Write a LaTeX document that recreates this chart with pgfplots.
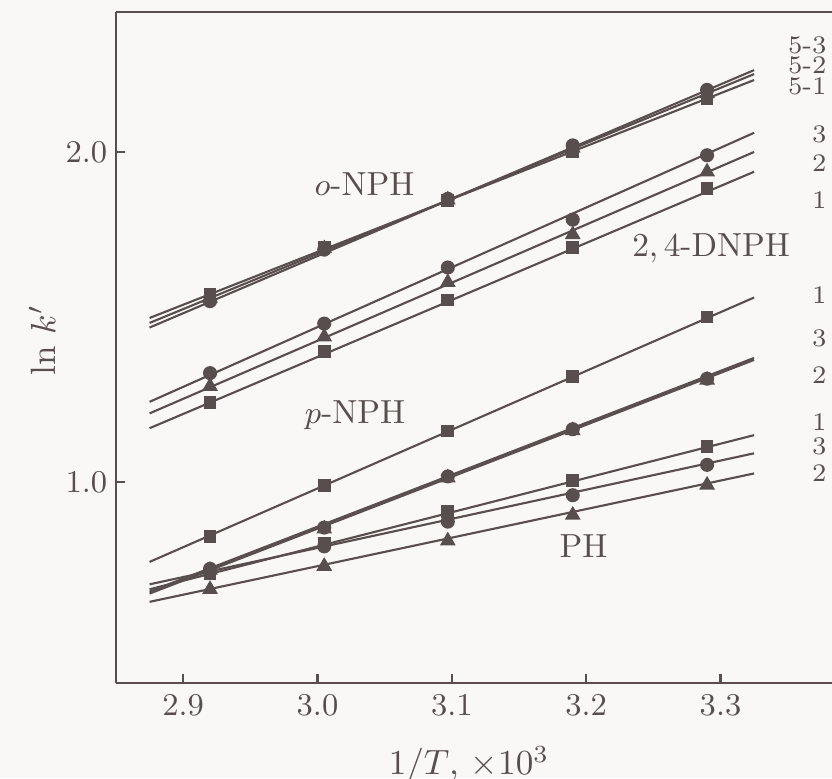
\documentclass[border=0pt]{standalone}
\usepackage{pgfplots}
\pgfplotsset{compat=1.18}
\definecolor{ink}{RGB}{88,78,78}
\definecolor{paper}{RGB}{250,248,246}

\begin{document}
\begin{tikzpicture}
\path[use as bounding box, fill=paper] (-1.16,-0.95) rectangle (7.16,6.83);
\begin{axis}[
    scale only axis,
    width=7.16cm, height=6.71cm,
    xmin=2.850, xmax=3.383,
    ymin=0.391, ymax=2.424,
    axis x line*=box, axis y line*=left,
    axis line style={ink, line width=0.8pt, -},
    tick pos=left,
    tick align=inside,
    major tick length=0.09cm,
    tick style={ink, line width=0.7pt},
    xtick={2.9,3.0,3.1,3.2,3.3},
    ytick={1,2},
    ticklabel style={ink, font=\fontsize{9.5}{10}\selectfont},
    xticklabel style={/pgf/number format/.cd, fixed, fixed zerofill, precision=1},
    yticklabel style={xshift=1pt, /pgf/number format/.cd, fixed, fixed zerofill, precision=1},
    xlabel={$1/T$, $\times10^{3}$},
    ylabel={ln $k'$},
    every axis x label/.style={at={(axis description cs:0.493,-0.122)}, anchor=center, ink, font=\fontsize{10}{11}\selectfont},
    every axis y label/.style={at={(axis description cs:-0.103,0.511)}, rotate=90, anchor=center, ink, font=\fontsize{10}{11}\selectfont},
    clip=false,
    every axis plot/.append style={ink, line width=0.6pt},
    mkc/.style={only marks, mark=*, mark size=1.7pt, mark options={fill=ink, draw=ink}},
    mkt/.style={only marks, mark=triangle*, mark size=2.0pt, mark options={fill=ink, draw=ink}},
    mks/.style={only marks, mark=square*, mark size=1.5pt, mark options={fill=ink, draw=ink}},
]

% o-NPH (5-1 squares, 5-2 triangles, 5-3 circles)
\addplot[no marks] coordinates {(2.875,1.497) (3.325,2.218)};
\addplot[no marks] coordinates {(2.875,1.482) (3.325,2.236)};
\addplot[no marks] coordinates {(2.875,1.468) (3.325,2.248)};
\addplot[mks] coordinates {(2.92,1.569) (3.005,1.712) (3.097,1.852) (3.19,2.001) (3.29,2.160)};
\addplot[mkt] coordinates {(2.92,1.557) (3.005,1.707) (3.097,1.855) (3.19,2.012) (3.29,2.177)};
\addplot[mkc] coordinates {(2.92,1.548) (3.005,1.704) (3.097,1.858) (3.19,2.020) (3.29,2.188)};

% 2,4-DNPH (1 squares, 2 triangles, 3 circles)
\addplot[no marks] coordinates {(2.875,1.163) (3.325,1.940)};
\addplot[no marks] coordinates {(2.875,1.208) (3.325,2.000)};
\addplot[no marks] coordinates {(2.875,1.243) (3.325,2.058)};
\addplot[mks] coordinates {(2.92,1.240) (3.005,1.395) (3.097,1.552) (3.19,1.710) (3.29,1.890)};
\addplot[mkt] coordinates {(2.92,1.290) (3.005,1.440) (3.097,1.605) (3.19,1.750) (3.29,1.940)};
\addplot[mkc] coordinates {(2.92,1.330) (3.005,1.480) (3.097,1.650) (3.19,1.795) (3.29,1.990)};

% p-NPH (1 squares, 2 triangles, 3 circles)
\addplot[no marks] coordinates {(2.875,0.758) (3.325,1.559)};
\addplot[no marks] coordinates {(2.875,0.662) (3.325,1.370)};
\addplot[no marks] coordinates {(2.875,0.668) (3.325,1.376)};
\addplot[mks] coordinates {(2.92,0.835) (3.005,0.990) (3.097,1.155) (3.19,1.319) (3.29,1.500)};
\addplot[mkc] coordinates {(2.92,0.737) (3.005,0.862) (3.097,1.017) (3.19,1.160) (3.29,1.313)};
\addplot[mkt] coordinates {(2.92,0.733) (3.005,0.858) (3.097,1.013) (3.19,1.156) (3.29,1.309)};

% PH (1 squares, 2 triangles, 3 circles)
\addplot[no marks] coordinates {(2.875,0.675) (3.325,1.142)};
\addplot[no marks] coordinates {(2.875,0.637) (3.325,1.026)};
\addplot[no marks] coordinates {(2.875,0.690) (3.325,1.087)};
\addplot[mks] coordinates {(2.92,0.722) (3.005,0.815) (3.097,0.910) (3.19,1.005) (3.29,1.107)};
\addplot[mkt] coordinates {(2.92,0.675) (3.005,0.745) (3.097,0.822) (3.19,0.900) (3.29,0.991)};
\addplot[mkc] coordinates {(2.92,0.730) (3.005,0.805) (3.097,0.880) (3.19,0.960) (3.29,1.052)};

% end-of-line labels
\begin{scope}[every node/.style={ink, font=\fontsize{7.2}{8}\selectfont, inner sep=0pt}]
\node[anchor=east] at (axis cs:3.3795,2.323) {5-3};
\node[anchor=east] at (axis cs:3.3795,2.261) {5-2};
\node[anchor=east] at (axis cs:3.3795,2.199) {5-1};
\node[anchor=east] at (axis cs:3.3795,2.052) {3};
\node[anchor=east] at (axis cs:3.3795,1.967) {2};
\node[anchor=east] at (axis cs:3.3795,1.855) {1};
\node[anchor=east] at (axis cs:3.3795,1.567) {1};
\node[anchor=east] at (axis cs:3.3795,1.436) {3};
\node[anchor=east] at (axis cs:3.3795,1.324) {2};
\node[anchor=east] at (axis cs:3.3795,1.182) {1};
\node[anchor=east] at (axis cs:3.3795,1.108) {3};
\node[anchor=east] at (axis cs:3.3795,1.027) {2};
\end{scope}
% group labels
\begin{scope}[every node/.style={ink, font=\fontsize{9.5}{10}\selectfont, inner sep=0pt}]
\node at (axis cs:3.035,1.903) {$o$-NPH};
\node at (axis cs:3.293,1.709) {2,\,4-DNPH};
\node at (axis cs:3.028,1.203) {$p$-NPH};
\node at (axis cs:3.198,0.806) {PH};
\end{scope}
\end{axis}
\end{tikzpicture}
\end{document}
